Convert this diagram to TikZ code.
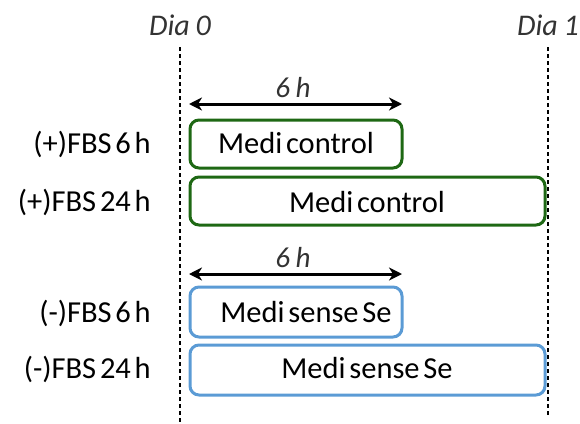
\documentclass[tikz,border=0pt]{standalone}
\usepackage{fontspec}
\setmainfont[WordSpace=0.55,ItalicFeatures={WordSpace=0.85}]{Carlito}
\usetikzlibrary{arrows.meta}
\definecolor{boxgreen}{RGB}{30,104,20}
\definecolor{boxblue}{RGB}{91,155,213}
\begin{document}
\begin{tikzpicture}[x=1pt,y=-1pt,
  daymark/.style={line width=1.8pt,dash pattern=on 4pt off 3pt},
  daylabel/.style={font=\fontsize{30}{32}\selectfont\itshape,text=black!80,anchor=base,inner sep=0pt},
  span/.style={line width=3pt,{Stealth[length=13pt,width=13pt,inset=4pt]}-{Stealth[length=13pt,width=13pt,inset=4pt]}},
  spanlabel/.style={font=\fontsize{29}{31}\selectfont\itshape,text=black!80,anchor=base,inner sep=0pt},
  grp/.style={font=\fontsize{30.5}{32}\selectfont,anchor=base east,inner sep=0pt},
  txt/.style={font=\fontsize{30.5}{32}\selectfont,anchor=base,inner sep=0pt},
  gbox/.style={draw=boxgreen,line width=3pt,rounded corners=9pt},
  bbox/.style={draw=boxblue,line width=3pt,rounded corners=9pt}]
\useasboundingbox (0,0) rectangle (580,423);

% day markers
\coordinate (d0t) at (180,47);
\coordinate (d0b) at (180,423);
\coordinate (d1t) at (548,47);
\coordinate (d1b) at (548,416);
\draw[daymark] (d0t) -- (d0b);
\draw[daymark] (d1t) -- (d1b);
\node[daylabel] (dia0) at (180,35) {Dia 0};
\node[daylabel] (dia1) at (548,35) {Dia 1};

% upper group: (+)FBS
\coordinate (a1l) at (189,104);
\coordinate (a1r) at (402,104);
\draw[span] (a1l) -- (a1r);
\node[spanlabel] (h1) at (293,97) {6 h};
\draw[gbox] (190,120) rectangle (402,168);
\draw[gbox] (190,177) rectangle (545,225);
\node[txt] (c1) at (296,153) {Medi control};
\node[txt] (c2) at (367,212) {Medi control};
\node[grp] (p6) at (151,153) {(+)FBS 6 h};
\node[grp] (p24) at (151,211) {(+)FBS 24 h};

% lower group: (-)FBS
\coordinate (a2l) at (189,274);
\coordinate (a2r) at (402,274);
\draw[span] (a2l) -- (a2r);
\node[spanlabel] (h2) at (293,267) {6 h};
\draw[bbox] (190,287) rectangle (402,337);
\draw[bbox] (190,345) rectangle (545,395);
\node[txt] (s1) at (306,322) {Medi sense Se};
\node[txt] (s2) at (367,378) {Medi sense Se};
\node[grp] (m6) at (151,322) {(-)FBS 6 h};
\node[grp] (m24) at (151,378) {(-)FBS 24 h};
\end{tikzpicture}
\end{document}
